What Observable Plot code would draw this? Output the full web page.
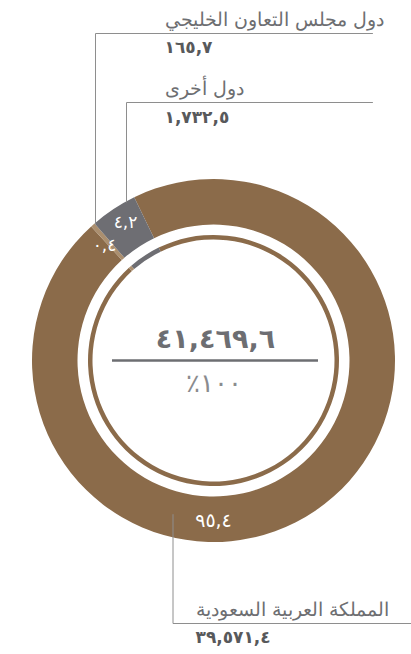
<!DOCTYPE html>
<html lang="ar">
<head>
<meta charset="utf-8">
<script src="https://cdn.jsdelivr.net/npm/d3@7"></script>
<script src="https://cdn.jsdelivr.net/npm/@observablehq/plot@0.6"></script>
<style>
  html, body { margin: 0; padding: 0; background: #fff; }
  #chart svg { display: block; font-family: "DejaVu Sans", "Noto Sans", sans-serif; }
</style>
</head>
<body>
<div id="chart"></div>
<script>
// ---- data ----
const names = ["المملكة العربية السعودية", "دول مجلس التعاون الخليجي", "دول أخرى"];
const values = [39571.4, 165.7, 1732.5];
const valueLabels = ["٣٩,٥٧١,٤", "١٦٥,٧", "١,٧٣٢,٥"];
const shareLabels = ["٩٥,٤", "٠,٤", "٤,٢"];
const totalLabel = "٤١,٤٦٩,٦";
const totalShareLabel = "٪١٠٠";
const colors = ["#8b6b4a", "#ab8f6f", "#6e6e73"];

// ---- layout ----
const W = 411, H = 654;
const CX = 213.5, CY = 360.5;
const R_OUT = 181.5, R_IN = 136, R_THIN_OUT = 125.5, R_THIN_IN = 121;
const START = -25.9 * Math.PI / 180;

const pie = d3.pie().sort(null).value(d => d.value)
  .startAngle(START).endAngle(START + 2 * Math.PI);
const slices = pie(names.map((n, i) => ({name: n, value: values[i], color: colors[i], i})));

// custom mark: donut arcs drawn through Plot's x/y scales
function donut(index, scales) {
  const sx = scales.x, sy = scales.y;
  const cx = sx(CX), cy = sy(CY);
  const k = sx(CX + 1) - sx(CX);
  const g = d3.create("svg:g").attr("transform", `translate(${cx},${cy})`);
  const rings = [[R_IN, R_OUT], [R_THIN_IN, R_THIN_OUT]];
  for (const [ri, ro] of rings) {
    const arc = d3.arc().innerRadius(ri * k).outerRadius(ro * k);
    g.selectAll(null).data(slices).join("path")
      .attr("d", arc)
      .attr("fill", d => d.data.color);
  }
  return g.node();
}

// leader lines (polyline: ring point -> corner -> end)
const leaderX = [172.5, 95, 126];
const leaderY = [623, 33, 102];
const leaderEnd = [411, 372, 372];
const leaderStartR = [159, R_OUT, R_OUT];
const leaders = [];
names.forEach((n, i) => {
  const dx = leaderX[i] - CX;
  const dy = Math.sqrt(leaderStartR[i] ** 2 - dx ** 2);
  const y0 = i === 0 ? CY + dy : CY - dy;
  leaders.push({z: i, x: leaderX[i], y: y0});
  leaders.push({z: i, x: leaderX[i], y: leaderY[i]});
  leaders.push({z: i, x: leaderEnd[i], y: leaderY[i]});
});

// annotation texts
const labelX = [195, 164, 164];
const labelY = [609, 19, 88];
const valueY = [637, 47, 117.5];
const annot = names.map((n, i) => ({name: n, val: valueLabels[i], x: labelX[i], ly: labelY[i], vy: valueY[i]}));

// percentage labels inside the ring
const shareX = [213, 104, 125];
const shareY = [520, 245, 222];
const shares = shareLabels.map((s, i) => ({s, x: shareX[i], y: shareY[i], fs: i === 0 ? 19 : 17}));

const centre = [{x: CX + 1.5, y: 339, t: totalLabel}];
const centreShare = [{x: CX, y: 383, t: totalShareLabel}];
const divider = [{x1: 112, x2: 318, y: 360}];

const plot = Plot.plot({
  width: W, height: H,
  margin: 0,
  x: {domain: [0, W], range: [0, W], axis: null},
  y: {domain: [0, H], range: [0, H], axis: null},
  marks: [
    donut,
    Plot.line(leaders, {x: "x", y: "y", z: "z", stroke: "#8e8e8e", strokeWidth: 1, curve: "linear"}),
    Plot.text(annot, {x: "x", y: "ly", text: "name", textAnchor: "start", fontSize: 19, fill: "#6d6e71", fontWeight: 300}),
    Plot.text(annot, {x: "x", y: "vy", text: "val", textAnchor: "start", fontSize: 17, fill: "#58595b", fontWeight: "bold"}),
    Plot.text(shares.slice(0, 1), {x: "x", y: "y", text: "s", fill: "white", fontSize: 19}),
    Plot.text(shares.slice(1), {x: "x", y: "y", text: "s", fill: "white", fontSize: 17}),
    Plot.text(centre, {x: "x", y: "y", text: "t", fill: "#6d6e72", fontSize: 27, fontWeight: "bold"}),
    Plot.ruleY(divider, {x1: "x1", x2: "x2", y: "y", stroke: "#6d6e72", strokeWidth: 2.5}),
    Plot.text(centreShare, {x: "x", y: "y", text: "t", fill: "#8a8b8e", fontSize: 26})
  ]
});
document.getElementById("chart").appendChild(plot);
</script>
</body>
</html>
